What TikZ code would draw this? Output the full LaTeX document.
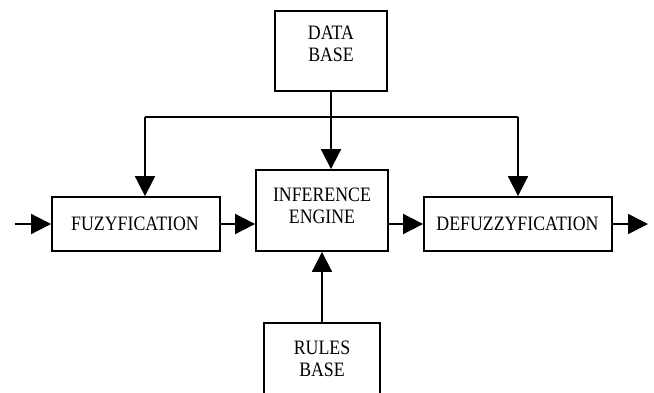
\documentclass[tikz,border=0pt]{standalone}
\usepackage{fontspec}
\setmainfont{Liberation Serif}
\usetikzlibrary{arrows.meta}
\begin{document}
\begin{tikzpicture}[x=1pt,y=-1pt,
  blk/.style={draw=black,line width=1.8pt,inner sep=0pt,rectangle},
  lbl/.style={inner sep=0pt,align=center,yscale=1.15,transform shape,font=\fontsize{17.8}{18.9}\selectfont},
  conn/.style={line width=1.8pt,-{Triangle[length=20pt,width=20pt]}},
  plain/.style={line width=1.8pt}]
\clip (0,0) rectangle (654,392);
\fill[white] (0,0) rectangle (654,392);
% boxes
\node[blk,minimum width=112pt,minimum height=80pt] (db) at (331,51) {};
\node[lbl] (dbt) at (331,44) {DATA\\BASE};
\node[blk,minimum width=132pt,minimum height=81pt] (ie) at (322,210.5) {};
\node[lbl] (iet) at (322,205.8) {INFERENCE\\ENGINE};
\node[blk,minimum width=168pt,minimum height=54pt] (fz) at (136,224) {};
\node[lbl] (fzt) at (135,224) {FUZYFICATION};
\node[blk,minimum width=188pt,minimum height=54pt] (df) at (518,224) {};
\node[lbl] (dft) at (517.5,224) {DEFUZZYFICATION};
\node[blk,minimum width=116pt,minimum height=90pt] (rb) at (322,368) {};
\node[lbl] (rbt) at (322,358.5) {RULES\\BASE};
% junction coordinates
\coordinate (jn) at (331,117);
\coordinate (jl) at (145,117);
\coordinate (jr) at (518,117);
\coordinate (in) at (14.6,224);
\coordinate (out) at (648,224);
% connectors
\draw[plain] (db.south) -- (jn);
\draw[plain] (jl) -- (jr);
\draw[conn] (jn) -- (jn |- ie.north);
\draw[conn] (jl) -- (jl |- fz.north);
\draw[conn] (jr) -- (jr |- df.north);
\draw[conn] (in) -- (fz.west);
\draw[conn] (fz.east) -- (fz.east -| ie.west);
\draw[conn] (ie.east |- df.west) -- (df.west);
\draw[conn] (df.east) -- (out);
\draw[conn] (rb.north) -- (ie.south);
\end{tikzpicture}
\end{document}
